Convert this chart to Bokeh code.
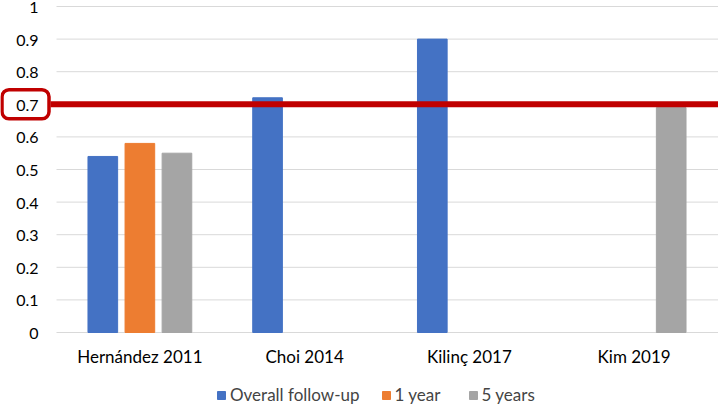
from bokeh.plotting import figure
from bokeh.models import (ColumnDataSource, Range1d, Legend, LegendItem, BoxAnnotation)
from bokeh.core.properties import value
from bokeh.embed import file_html
from bokeh.resources import INLINE

categories = ["Hernández 2011", "Choi 2014", "Kilinç 2017", "Kim 2019"]
series_names = ["Overall follow-up", "1 year", "5 years"]
overall = [0.54, 0.72, 0.90, None]
one_year = [0.58, None, None, None]
five_years = [0.55, None, None, 0.69]
threshold = 0.7
y_ticks = [0, 0.1, 0.2, 0.3, 0.4, 0.5, 0.6, 0.7, 0.8, 0.9, 1]
y_tick_labels = ["0", "0.1", "0.2", "0.3", "0.4", "0.5", "0.6", "0.7", "0.8", "0.9", "1"]

colors = ["#4472C4", "#ED7D31", "#A5A5A5"]
offsets = [-0.225, 0.0, 0.225]
FONT = "Lato"
RED = "#C00000"
GRID = "#D9D9D9"

W, H = 718, 406
# pixel layout of the plotting area (categories from px 57 to 716, y=0 at px 332, y=1 at px 6)
CAT_LEFT, CAT_RIGHT = 57, 716
Y0_PX, Y1_PX = 332, 6
c = (CAT_RIGHT - CAT_LEFT) / len(categories)        # px per category
k = (Y0_PX - Y1_PX)                                 # px per y unit


def ux(px):  # pixel -> x data
    return (px - CAT_LEFT) / c - 0.5


def uy(py):  # pixel -> y data
    return (Y0_PX - py) / k


p = figure(x_range=Range1d(ux(0), ux(W)), y_range=Range1d(uy(H), uy(0)),
           width=W, height=H, output_backend="svg", toolbar_location=None,
           min_border=0, min_border_left=0, min_border_right=0,
           min_border_top=0, min_border_bottom=0)
p.outline_line_color = None
p.xaxis.visible = False
p.yaxis.visible = False
p.grid.visible = False

# horizontal gridlines (y=0 doubles as the category axis line)
p.segment(x0=[ux(56)] * len(y_ticks), x1=[ux(W)] * len(y_ticks), y0=y_ticks, y1=y_ticks,
          line_color=GRID, line_width=1)

# y tick labels
p.text(x=[ux(38)] * len(y_ticks), y=y_ticks, text=y_tick_labels,
       text_font=value(FONT), text_font_size="16px", text_color="#000000",
       text_align="right", text_baseline="middle", y_offset=1)

# category labels
p.text(x=list(range(len(categories))), y=[uy(356)] * len(categories), text=categories,
       text_font=value(FONT), text_font_size="17px", text_color="#000000",
       text_align="center", text_baseline="middle")

# bars
items = []
for name, vals, col, off in zip(series_names, [overall, one_year, five_years], colors, offsets):
    xs = [i + off for i, v in enumerate(vals) if v is not None]
    ys = [v for v in vals if v is not None]
    src = ColumnDataSource(dict(x=xs, val=ys))
    r = p.vbar(x="x", top="val", width=0.18, source=src,
               fill_color=col, line_color=col, line_width=1)
    items.append(LegendItem(label=name, renderers=[r]))

# threshold line
p.add_layout(BoxAnnotation(left=ux(50), right=ux(W), bottom=threshold - 3 / k,
                           top=threshold + 3 / k, fill_color=RED, fill_alpha=1,
                           line_color=None, level="overlay"))
# rounded box around the 0.7 tick label
p.add_layout(BoxAnnotation(left=ux(1.5), right=ux(48.5), bottom=threshold - 14.5 / k,
                           top=threshold + 14.5 / k, fill_color=None, fill_alpha=0,
                           line_color=RED, line_alpha=1, line_width=3.5,
                           border_radius=7, level="overlay"))

legend = Legend(items=items, orientation="horizontal", location=(216, 1),
                glyph_width=10, glyph_height=10, label_standoff=4, spacing=21,
                label_height=17, label_width=52,
                label_text_font=FONT, label_text_font_size="17px",
                border_line_color=None, background_fill_alpha=0, padding=0, margin=0)
p.add_layout(legend)

open("out.html", "w").write(file_html(p, INLINE))
